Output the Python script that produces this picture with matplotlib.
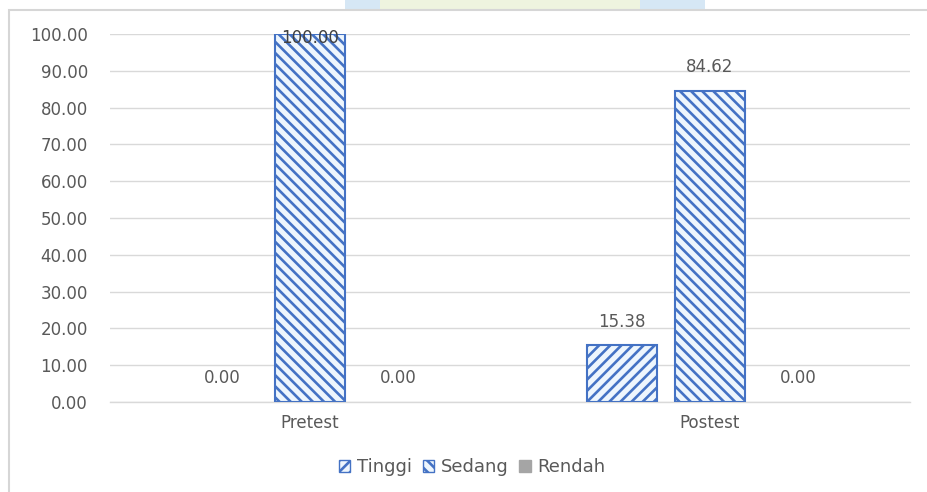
import matplotlib
matplotlib.use("Agg")
import matplotlib.pyplot as plt
from matplotlib.patches import Rectangle, Patch
import numpy as np

# Data
categories = ["Pretest", "Postest"]
series_names = ["Tinggi", "Sedang", "Rendah"]
tinggi = [0.00, 15.38]
sedang = [100.00, 84.62]
rendah = [0.00, 0.00]
y_ticks = [0, 10, 20, 30, 40, 50, 60, 70, 80, 90, 100]

plt.rcParams["font.family"] = ["DejaVu Sans"]
plt.rcParams["hatch.linewidth"] = 1.9

W, H = 928, 492
fig = plt.figure(figsize=(W / 100, H / 100), dpi=100)
fig.patch.set_facecolor("white")

# pale banner strips along the top edge
for x0, x1, c in [(345, 380, "#d6e7f5"), (380, 640, "#eef4df"), (640, 705, "#d6e7f5")]:
    fig.add_artist(Rectangle((x0 / W, 1 - 10 / H), (x1 - x0) / W, 10 / H,
                             transform=fig.transFigure, facecolor=c,
                             edgecolor="none"))

# outer chart frame
fig.add_artist(Rectangle((9 / W, -0.05), 1.1, 1 - 10 / H + 0.05,
                         transform=fig.transFigure, fill=False,
                         edgecolor="#d6d6d6", linewidth=1.5))

ax = fig.add_axes([110 / W, 1 - 402 / H, 800 / W, (402 - 34) / H])

blue = "#4472C4"
fill = "#eef6fd"
text_col = "#595959"
grid_col = "#d9d9d9"
fs = 12

x = np.arange(len(categories))
width = 0.175
step = 0.22
styles = [
    dict(facecolor=fill, edgecolor=blue, hatch="///"),
    dict(facecolor=fill, edgecolor=blue, hatch="\\\\\\"),
    dict(facecolor="#a5a5a5", edgecolor="#a5a5a5", hatch=None),
]
all_series = [tinggi, sedang, rendah]

for i, (vals, st) in enumerate(zip(all_series, styles)):
    pos = x + (i - 1) * step
    lws = [1.5 if v > 0 else 0 for v in vals]
    ax.bar(pos, vals, width, linewidth=lws, zorder=3, **st)
    for xp, v in zip(pos, vals):
        if v >= 99.5:
            ax.annotate(f"{v:.2f}", (xp, v), xytext=(0, -3), textcoords="offset points",
                        ha="center", va="center", fontsize=fs, color="#404040", zorder=5)
        else:
            ax.annotate(f"{v:.2f}", (xp, v), xytext=(0, 17), textcoords="offset points",
                        ha="center", va="center", fontsize=fs, color=text_col, zorder=5)

ax.set_xlim(-0.5, 1.5)
ax.set_ylim(0, 100)
ax.set_yticks(y_ticks)
ax.set_yticklabels([f"{t:.2f}" for t in y_ticks])
ax.set_xticks(x)
ax.set_xticklabels(categories)
ax.yaxis.grid(True, color=grid_col, linewidth=1, zorder=0)
ax.set_axisbelow(True)
for s in ["top", "right", "left"]:
    ax.spines[s].set_visible(False)
ax.spines["bottom"].set_color(grid_col)
ax.spines["bottom"].set_linewidth(1)
ax.tick_params(axis="both", length=0, colors=text_col, labelsize=fs)
ax.tick_params(axis="y", pad=16)
ax.tick_params(axis="x", pad=9)

handles = [
    Patch(facecolor=fill, edgecolor=blue, hatch="///", label=series_names[0]),
    Patch(facecolor=fill, edgecolor=blue, hatch="\\\\\\", label=series_names[1]),
    Patch(facecolor="#a5a5a5", edgecolor="#a5a5a5", label=series_names[2]),
]
fig.legend(handles=handles, loc="center", bbox_to_anchor=(472 / W, 1 - 467 / H),
           ncol=3, frameon=False, fontsize=13, labelcolor=text_col,
           handlelength=0.65, handleheight=0.65, handletextpad=0.35, columnspacing=0.6)

fig.savefig("out.png", dpi=100, facecolor="white")
